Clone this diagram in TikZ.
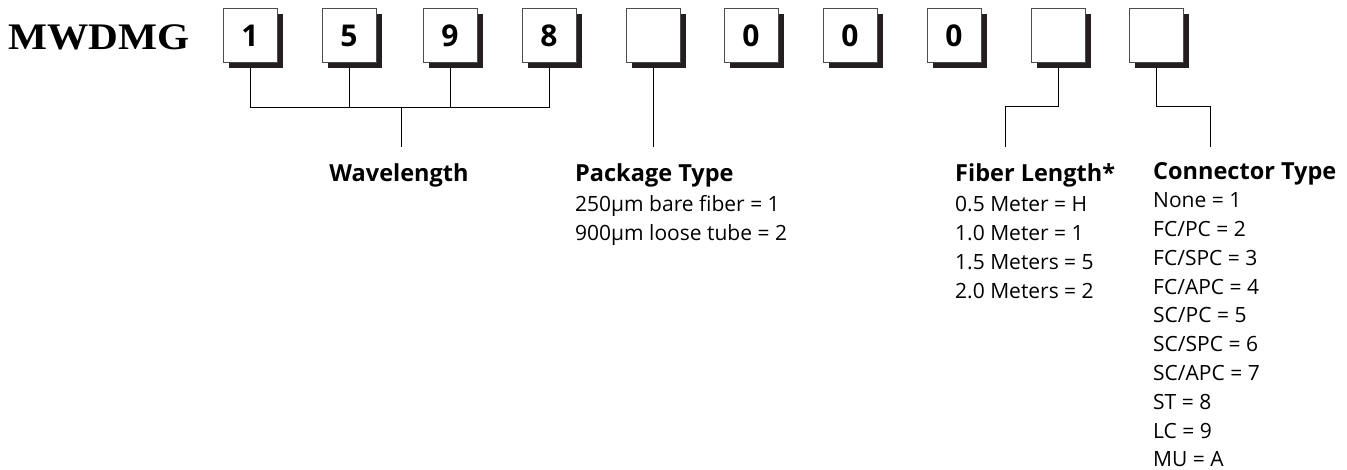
\documentclass[tikz,border=0pt]{standalone}
\usepackage{fontspec}
\setsansfont{Open Sans}
\newfontfamily\titlefont{Liberation Serif}[FakeStretch=1.1]
\usetikzlibrary{shadows}

\definecolor{shadowBlack}{HTML}{231F20}

\begin{document}
\begin{tikzpicture}
[x=1pt,y=-1pt,
  digitBox/.style={shape=rectangle,draw=black!70,line width=1pt,fill=white,
    minimum width=54pt,minimum height=54pt,inner sep=0pt,
    drop shadow={shadow xshift=5.5pt,shadow yshift=-5.5pt,opacity=1,fill=shadowBlack},
    font=\sffamily\bfseries\fontsize{30}{30}\selectfont},
  lineDecorate/.style={-,line width=1pt,draw=black},
  headText/.style={inner sep=0pt,font=\sffamily\bfseries\fontsize{23.5}{24}\selectfont},
  itemText/.style={anchor=base west,inner sep=0pt,font=\sffamily\fontsize{21}{24}\selectfont}]
\useasboundingbox (0,0) rectangle (1347,470);
%% part number
\node (title) at (8,50) [anchor=base west,inner sep=0pt,
  font=\titlefont\bfseries\fontsize{37.5}{37.5}\selectfont] {MWDMG};
%% connectors
\coordinate (wj) at (401.5,108);
\coordinate (wd) at (401.5,147);
\coordinate (fj) at (1005.5,107);
\coordinate (cj) at (1210.5,107);
%% boxes
\foreach \boxname/\x/\digit in {
  b1/223/1, b2/322/5, b3/423/9, b4/522/8, b5/626/{},
  b6/724/0, b7/823/0, b8/927/0, b9/1031/{}, b10/1129/{}}
{
  \node (\boxname) at (\x+27,36) [digitBox] {\digit};
}
\begin{scope}[xshift=2.5pt]
\foreach \boxname in {b1,b2,b3,b4}
{
  \draw[lineDecorate] ([yshift=-5pt]\boxname.south) -- (\boxname.south |- wj);
}
\draw[lineDecorate] (b1.south |- wj) -- (b4.south |- wj);
\draw[lineDecorate] (wj) -- (wd);
\draw[lineDecorate] ([yshift=-5pt]b5.south) -- (b5.south |- wd);
\draw[lineDecorate] ([yshift=-5pt]b9.south) |- (fj) -- (fj |- wd);
\draw[lineDecorate] ([yshift=-5pt]b10.south) |- (cj) -- (cj |- wd);
\end{scope}
%% labels
\node (wave) at (399,182) [headText,anchor=base] {Wavelength};
\node (pack) at (575,182) [headText,anchor=base west] {Package Type};
\node (pack1) at (575,212) [itemText] {250µm bare fiber = 1};
\node (pack2) at (575,241) [itemText] {900µm loose tube = 2};
\node (fiber) at (955,182) [headText,anchor=base west] {Fiber Length*};
\foreach \i/\txt in {0/{0.5 Meter = H}, 1/{1.0 Meter = 1}, 2/{1.5 Meters = 5}, 3/{2.0 Meters = 2}}
{
  \node (fiber\i) at (955,212+28.7*\i) [itemText] {\txt};
}
\node (conn) at (1153,180) [headText,anchor=base west] {Connector Type};
\foreach \i/\txt in {0/{None = 1}, 1/{FC/PC = 2}, 2/{FC/SPC = 3}, 3/{FC/APC = 4}, 4/{SC/PC = 5},
  5/{SC/SPC = 6}, 6/{SC/APC = 7}, 7/{ST = 8}, 8/{LC = 9}, 9/{MU = A}}
{
  \node (conn\i) at (1153,208+28.75*\i) [itemText] {\txt};
}
\end{tikzpicture}
\end{document}
